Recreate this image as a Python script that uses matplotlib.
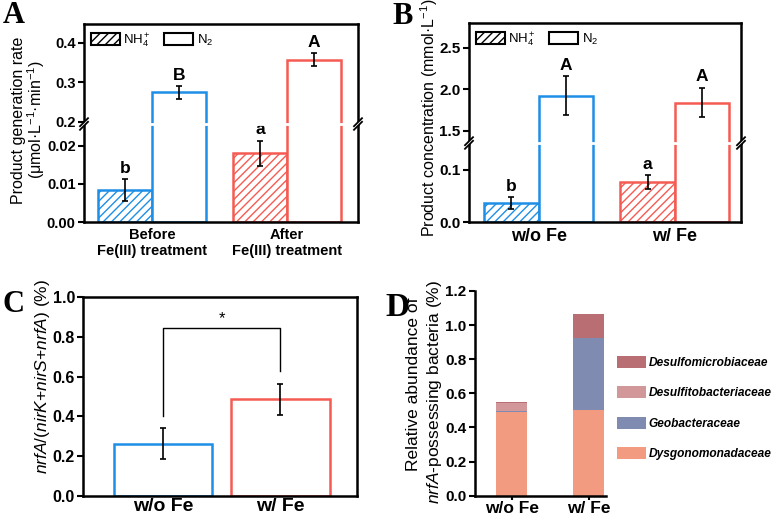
import matplotlib.pyplot as plt
import numpy as np
from matplotlib.lines import Line2D
from matplotlib.patches import Patch

plt.rcParams['font.family'] = ['Liberation Sans', 'DejaVu Sans']
plt.rcParams['mathtext.fontset'] = 'custom'
plt.rcParams['mathtext.rm'] = 'Liberation Sans'
plt.rcParams['mathtext.it'] = 'Liberation Sans:italic'
plt.rcParams['mathtext.bf'] = 'Liberation Sans:bold'
plt.rcParams['hatch.linewidth'] = 1.0

W, H = 781, 516

# ---- data ----
groups_a = ['Before\nFe(III) treatment', 'After\nFe(III) treatment']
nh4_rate = [0.0084, 0.0180]
nh4_rate_err = [0.0028, 0.0033]
n2_rate = [0.274, 0.357]
n2_rate_err = [0.016, 0.016]
letters_a_nh4 = ['b', 'a']
letters_a_n2 = ['B', 'A']

groups_b = ['w/o Fe', 'w/ Fe']
nh4_conc = [0.036, 0.0765]
nh4_conc_err = [0.012, 0.0135]
n2_conc = [1.925, 1.84]
n2_conc_err = [0.235, 0.18]
letters_b_nh4 = ['b', 'a']
letters_b_n2 = ['A', 'A']

groups_c = ['w/o Fe', 'w/ Fe']
nrfa_ratio = [0.263, 0.485]
nrfa_ratio_err = [0.077, 0.079]

groups_d = ['w/o Fe', 'w/ Fe']
families = ['Dysgonomonadaceae', 'Geobacteraceae', 'Desulfitobacteriaceae', 'Desulfomicrobiaceae']
abund_wo_fe = [0.493, 0.006, 0.045, 0.007]
abund_w_fe = [0.502, 0.421, 0.0, 0.141]

group_colors = ['#1E8FE6', '#F55B52']
family_colors = ['#F29B80', '#7F8BB0', '#D29799', '#B86E73']

fig = plt.figure(figsize=(W / 100, H / 100), dpi=100)


def px_rect(left, top, right, bottom):
    return [left / W, 1 - bottom / H, (right - left) / W, (bottom - top) / H]


def style_axis(ax, tick_size):
    for s in ax.spines.values():
        s.set_linewidth(1.8)
    ax.tick_params(axis='y', direction='out', length=4, width=1.5, pad=2,
                   labelsize=tick_size, right=False)
    ax.tick_params(axis='x', length=0)
    for lab in ax.get_yticklabels():
        lab.set_fontweight('bold')


def break_marks(left, right, yb):
    # white gap across the bar outlines
    fig.add_artist(Line2D([(left + 3) / W, (right - 3) / W], [1 - yb / H] * 2,
                          color='white', lw=2.0, zorder=5))
    for xs in (left, right):
        fig.add_artist(Line2D([(xs - 4) / W, (xs + 4) / W],
                              [1 - (yb + 4) / H, 1 - (yb - 4) / H],
                              color='white', lw=2.0, zorder=6))
        for dy in (-1.8, 1.8):
            fig.add_artist(Line2D([(xs - 4) / W, (xs + 4) / W],
                                  [1 - (yb + dy + 4) / H, 1 - (yb + dy - 4) / H],
                                  color='black', lw=1.3, zorder=7))


def broken_panel(box, yb, lo_lim, hi_lim, xlim, labels, nh4, nh4_err, n2, n2_err,
                 let_nh4, let_n2, lo_ticks, hi_ticks, lo_fmt, hi_fmt, xlab_size, tick_size):
    left, top, right, bottom = box
    ax_hi = fig.add_axes(px_rect(left, top, right, yb))
    ax_lo = fig.add_axes(px_rect(left, yb, right, bottom))
    x = np.arange(len(labels))
    for ax in (ax_lo, ax_hi):
        for i in range(len(x)):
            ax.bar(x[i] - 0.2, nh4[i], 0.4, facecolor='white', edgecolor=group_colors[i],
                   hatch='////', lw=1.8)
            ax.bar(x[i] + 0.2, n2[i], 0.4, facecolor='white', edgecolor=group_colors[i], lw=1.8)
        ax.errorbar(x - 0.2, nh4, yerr=nh4_err, fmt='none', ecolor='black', elinewidth=1.2,
                    capsize=2.5, capthick=1.2)
        ax.errorbar(x + 0.2, n2, yerr=n2_err, fmt='none', ecolor='black', elinewidth=1.2,
                    capsize=2.5, capthick=1.2)
        ax.set_xlim(*xlim)
    ax_lo.set_ylim(*lo_lim)
    ax_hi.set_ylim(*hi_lim)
    ax_lo.spines['top'].set_visible(False)
    ax_hi.spines['bottom'].set_visible(False)
    ax_hi.set_xticks([])
    ax_lo.set_xticks(x)
    ax_lo.set_xticklabels(labels, fontsize=xlab_size, fontweight='bold')
    ax_lo.set_yticks(lo_ticks)
    ax_lo.set_yticklabels([lo_fmt.format(v) for v in lo_ticks])
    ax_hi.set_yticks(hi_ticks)
    ax_hi.set_yticklabels([hi_fmt.format(v) for v in hi_ticks])
    style_axis(ax_lo, tick_size)
    style_axis(ax_hi, tick_size)
    ax_lo.tick_params(axis='x', pad=4)
    for i in range(len(x)):
        ax_lo.annotate(let_nh4[i], (x[i] - 0.2, nh4[i] + nh4_err[i]), xytext=(0, 2.5),
                       textcoords='offset points', ha='center', va='bottom',
                       fontsize=12.5, fontweight='bold')
        ax_hi.annotate(let_n2[i], (x[i] + 0.2, n2[i] + n2_err[i]), xytext=(0, 2.5),
                       textcoords='offset points', ha='center', va='bottom',
                       fontsize=12.5, fontweight='bold')
    handles = [Patch(facecolor='white', edgecolor='black', hatch='////', lw=1.5),
               Patch(facecolor='white', edgecolor='black', lw=1.5)]
    ax_hi.legend(handles, [r'NH$_4^+$', r'N$_2$'], loc='upper left',
                 bbox_to_anchor=(7 / (right - left), 1 - 7 / (yb - top)), ncol=2,
                 frameon=False, borderpad=0, borderaxespad=0, handlelength=2.2,
                 handleheight=1.0, handletextpad=0.25, columnspacing=1.0, fontsize=9.5)
    break_marks(left, right, yb)
    return ax_lo, ax_hi


# ---- panel A ----
broken_panel((84, 24, 358, 222), 124, (0, 0.0257), (0.194, 0.447), (-0.504, 1.526),
             groups_a, nh4_rate, nh4_rate_err, n2_rate, n2_rate_err,
             letters_a_nh4, letters_a_n2, [0.0, 0.01, 0.02], [0.2, 0.3, 0.4],
             '{:.2f}', '{:.1f}', 10.5, 10.5)
fig.text(29 / W, 1 - 120 / H, 'Product generation rate\n' + r'(μmol·L$^{-1}$·min$^{-1}$)',
         rotation=90, ha='center', va='center', multialignment='center',
         linespacing=1.0, fontsize=11.5)

# ---- panel B ----
broken_panel((469, 23, 741, 222), 143, (0, 0.1516), (1.352, 2.80), (-0.512, 1.485),
             groups_b, nh4_conc, nh4_conc_err, n2_conc, n2_conc_err,
             letters_b_nh4, letters_b_n2, [0.0, 0.1], [1.5, 2.0, 2.5],
             '{:.1f}', '{:.1f}', 13, 11)
fig.text(429 / W, 1 - 118 / H, r'Product concentration (mmol·L$^{-1}$)', rotation=90,
         ha='center', va='center', fontsize=11.5)

# ---- panel C ----
axC = fig.add_axes(px_rect(83.3, 297.3, 357.3, 495.7))
xc = np.arange(len(groups_c))
for i in range(len(xc)):
    axC.bar(xc[i], nrfa_ratio[i], 0.84, facecolor='white', edgecolor=group_colors[i], lw=1.8)
axC.errorbar(xc, nrfa_ratio, yerr=nrfa_ratio_err, fmt='none', ecolor='black',
             elinewidth=1.2, capsize=2.5, capthick=1.2)
axC.set_xlim(-0.678, 1.655)
axC.set_ylim(0, 1.0)
axC.set_yticks(np.arange(0, 1.01, 0.2))
axC.set_yticklabels(['{:.1f}'.format(v) for v in np.arange(0, 1.01, 0.2)])
axC.set_xticks(xc)
axC.set_xticklabels(groups_c, fontsize=14, fontweight='bold')
style_axis(axC, 11.5)
axC.tick_params(axis='x', pad=2)
tops = [v + e for v, e in zip(nrfa_ratio, nrfa_ratio_err)]
bracket_y = max(tops) + 0.28
axC.plot([xc[0], xc[0], xc[1], xc[1]],
         [tops[0] + 0.06, bracket_y, bracket_y, tops[1] + 0.066], color='black', lw=1.0)
axC.text(xc.mean(), bracket_y + 0.01, '*', ha='center', va='bottom', fontsize=12)
fig.text(43 / W, 1 - 376 / H,
         r'$\it{nrfA}$/($\it{nirK}$+$\it{nirS}$+$\it{nrfA}$) (%)',
         rotation=90, ha='center', va='center', fontsize=12.5)

# ---- panel D ----
axD = fig.add_axes(px_rect(474.7, 291, 606, 495.7))
xd = np.arange(len(groups_d))
stack = np.array([abund_wo_fe, abund_w_fe]).T
bottom = np.zeros(len(xd))
for fam, vals, col in zip(families, stack, family_colors):
    axD.bar(xd, vals, 0.4, bottom=bottom, color=col, edgecolor='none', label=fam)
    bottom += vals
axD.set_xlim(-0.48, 1.225)
axD.set_ylim(0, 1.2)
axD.set_yticks(np.arange(0, 1.21, 0.2))
axD.set_yticklabels(['{:.1f}'.format(v) for v in np.arange(0, 1.21, 0.2)])
axD.set_xticks(xd)
axD.set_xticklabels(groups_d, fontsize=12.5, fontweight='bold')
axD.spines['top'].set_visible(False)
axD.spines['right'].set_visible(False)
style_axis(axD, 11)
axD.tick_params(axis='x', direction='out', length=3, width=1.5, pad=1)
hd = [Patch(facecolor=c, edgecolor='none') for c in family_colors][::-1]
axD.legend(hd, families[::-1], loc='center left', bbox_to_anchor=(617 / W, 1 - 408 / H),
           bbox_transform=fig.transFigure, frameon=False, borderpad=0, borderaxespad=0,
           handlelength=2.4, handleheight=1.15, handletextpad=0.25, labelspacing=1.45,
           prop=dict(size=8.6, weight='bold', style='italic'))
fig.text(414 / W, 1 - 384 / H, 'Relative abundance of', rotation=90, ha='center',
         va='center', fontsize=12.5)
fig.text(435 / W, 1 - 392 / H, r'$\it{nrfA}$-possessing bacteria (%)', rotation=90,
         ha='center', va='center', fontsize=12.5)

# ---- panel letters ----
for letter, (lx, ly), size in [('A', (3, 1), 22), ('B', (392, 2), 22),
                               ('C', (3, 290), 22), ('D', (385, 292), 24)]:
    fig.text(lx / W, 1 - ly / H, letter, ha='left', va='top', fontsize=size,
             fontweight='bold', family='Liberation Serif')

fig.savefig('out.png', dpi=100)
